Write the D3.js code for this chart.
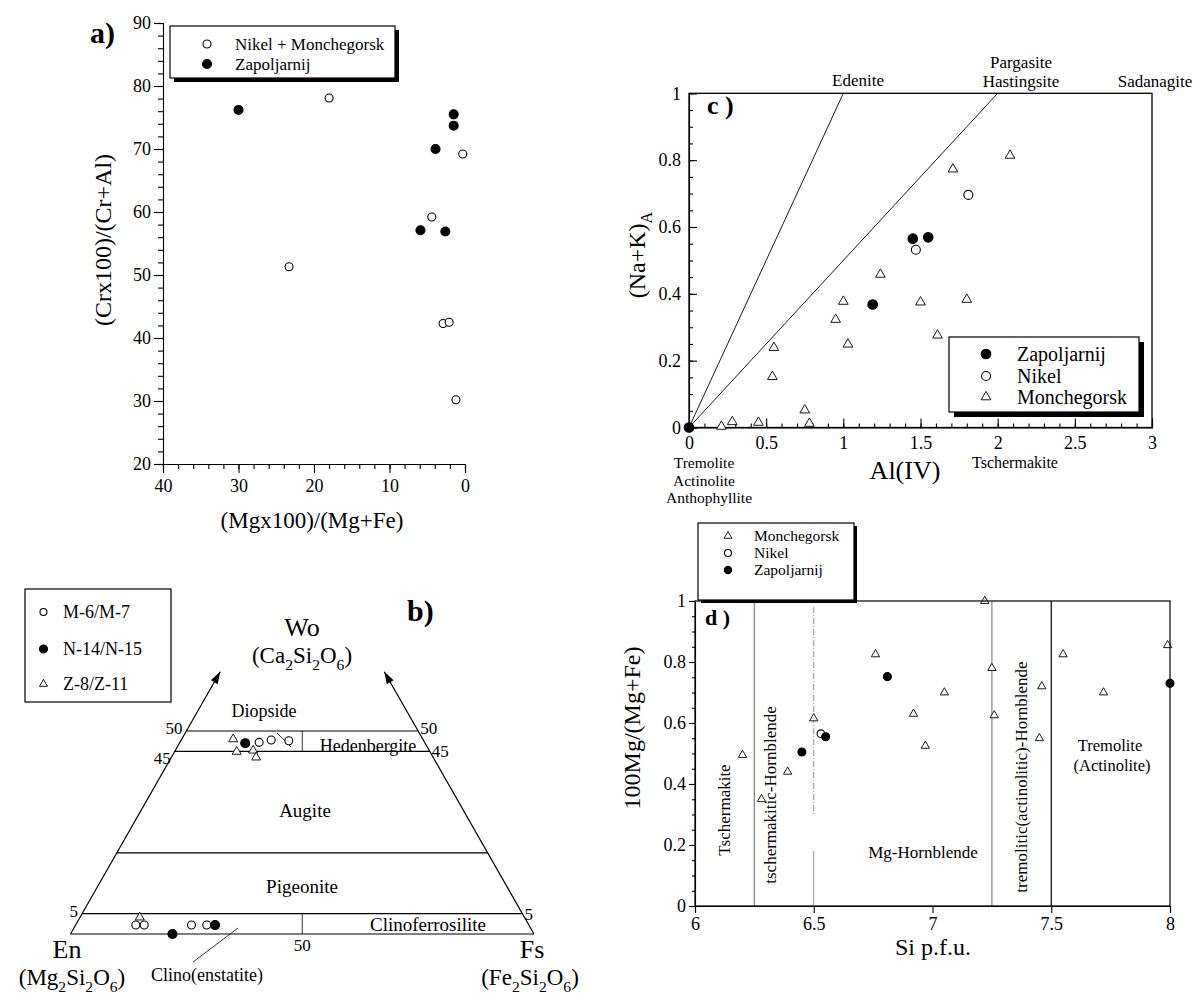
<!DOCTYPE html>
<html>
<head>
<meta charset="utf-8">
<script src="https://cdn.jsdelivr.net/npm/d3@7"></script>
<style>
body { margin: 0; background: #fff; }
</style>
</head>
<body>
<script>
// ---------- data ----------
// a) (Mgx100)/(Mg+Fe) vs (Crx100)/(Cr+Al)
var aNikelMonch = [[18, 78.1], [0.3, 69.2], [4.4, 59.2], [23.3, 51.3], [2.9, 42.3], [2.1, 42.5], [1.2, 30.2]];
var aZapol = [[30, 76.2], [1.5, 75.5], [1.5, 73.7], [3.9, 70.0], [5.9, 57.1], [2.6, 56.9]];
var aYTicks = [20, 30, 40, 50, 60, 70, 80, 90];
var aXTicks = [40, 30, 20, 10, 0];

// b) pyroxene quadrilateral, points as [Wo, Fs]
var bM = [[47.2, 17.1], [47.8, 19.4], [47.6, 23.3], [2.2, 13.0], [2.2, 14.8], [2.2, 25.0], [2.2, 28.3]];
var bN = [[47.0, 14.2], [2.2, 30.1], [0, 22.0]];
var bZ = [[48.0, 11.1], [44.9, 13.4], [45.2, 16.8], [43.5, 18.3], [4.1, 12.9]];
var bWoLines = [50, 45, 20, 5];
var bWoLabels = [50, 45, 5];

// c) Al(IV) vs (Na+K)A
var cZapol = [[0, 0], [1.19, 0.368], [1.45, 0.565], [1.55, 0.569]];
var cNikel = [[1.47, 0.532], [1.81, 0.696]];
var cMonch = [[1.71, 0.773], [2.08, 0.814], [1.24, 0.458], [1.0, 0.377], [1.5, 0.375], [1.8, 0.383],
  [0.95, 0.323], [1.03, 0.249], [1.61, 0.276], [0.55, 0.239], [0.54, 0.152], [0.75, 0.052],
  [0.78, 0.012], [0.45, 0.015], [0.28, 0.017], [0.21, 0.003]];
var cLines = [[1, 1], [2, 1]];
var cYTicks = [0, 0.2, 0.4, 0.6, 0.8, 1];
var cXTicks = [0, 0.5, 1, 1.5, 2, 2.5, 3];

// d) Si p.f.u. vs 100Mg/(Mg+Fe)
var dMonch = [[6.20, 0.495], [6.28, 0.35], [6.39, 0.44], [6.50, 0.615], [6.76, 0.825], [6.92, 0.63],
  [6.97, 0.525], [7.05, 0.70], [7.22, 1.0], [7.25, 0.78], [7.26, 0.625], [7.45, 0.55], [7.46, 0.72],
  [7.55, 0.825], [7.72, 0.70], [7.99, 0.855]];
var dNikel = [[6.53, 0.565]];
var dZapol = [[6.45, 0.505], [6.55, 0.555], [6.81, 0.752], [8.0, 0.73]];
var dYTicks = [0, 0.2, 0.4, 0.6, 0.8, 1];
var dXTicks = [6, 6.5, 7, 7.5, 8];

// ---------- helpers ----------
var serif = "'Liberation Serif','Times New Roman',Times,serif";

var svg = d3.select("body").append("svg")
  .attr("width", 1196)
  .attr("height", 996)
  .style("font-family", serif);

var styleAxis = function(g, size) {
  g.attr("font-family", serif).attr("font-size", size);
  g.selectAll("path,line").attr("stroke", "#000").attr("stroke-width", 1.1);
  g.selectAll("text").attr("fill", "#000");
}

var drawMarker = function(g, type, x, y, r) {
  if (type == "tri") {
    g.append("path")
      .attr("d", d3.symbol(d3.symbolTriangle, r * r * 2.2)())
      .attr("transform", "translate(" + x + "," + y + ")")
      .attr("fill", "#fff").attr("stroke", "#000").attr("stroke-width", 0.9);
  } else {
    g.append("circle").attr("cx", x).attr("cy", y).attr("r", r)
      .attr("fill", type == "filled" ? "#000" : "#fff")
      .attr("stroke", "#000").attr("stroke-width", 1.1);
  }
}

var legendBox = function(x, y, w, h, shadow) {
  if (shadow) {
    svg.append("rect").attr("x", x + shadow).attr("y", y + shadow)
      .attr("width", w).attr("height", h).attr("fill", "#000");
  }
  svg.append("rect").attr("x", x).attr("y", y).attr("width", w).attr("height", h)
    .attr("fill", "#fff").attr("stroke", "#000").attr("stroke-width", 1.2);
}

var label = function(x, y, txt, size, anchor, weight) {
  return svg.append("text").attr("x", x).attr("y", y)
    .attr("font-size", size)
    .attr("text-anchor", anchor || "middle")
    .attr("font-weight", weight || "normal")
    .text(txt);
}

// text with subscripts: parts are strings or {sub: "2"}
var richText = function(x, y, parts, size, anchor, transform) {
  var t = svg.append("text").attr("x", x).attr("y", y)
    .attr("font-size", size).attr("text-anchor", anchor || "middle");
  if (transform) t.attr("transform", transform);
  var down = false;
  var shift = size * 0.3;
  parts.forEach(function(p) {
    var isSub = typeof p != "string";
    var s = t.append("tspan").text(isSub ? p.sub : p);
    if (isSub) {
      s.attr("font-size", size * 0.68);
      if (!down) s.attr("dy", shift);
      down = true;
    } else if (down) {
      s.attr("dy", -shift);
      down = false;
    }
  });
  return t;
}

// ---------- panel a ----------
var aX = d3.scaleLinear().domain([40, 0]).range([163, 465]);
var aY = d3.scaleLinear().domain([20, 90]).range([464, 23]);

svg.append("g").attr("transform", "translate(163,0)")
  .call(d3.axisLeft(aY).tickValues(d3.range(20, 91, 2)).tickSize(5).tickFormat(""))
  .call(function(g) { styleAxis(g, 18); g.select(".domain").remove(); });
svg.append("g").attr("transform", "translate(163,0)")
  .call(d3.axisLeft(aY).tickValues(aYTicks).tickSize(9).tickPadding(3))
  .call(function(g) { styleAxis(g, 18); });
svg.append("g").attr("transform", "translate(0,464)")
  .call(d3.axisBottom(aX).tickValues(d3.range(0, 41, 2)).tickSize(5).tickFormat(""))
  .call(function(g) { styleAxis(g, 18); g.select(".domain").remove(); });
svg.append("g").attr("transform", "translate(0,464)")
  .call(d3.axisBottom(aX).tickValues(aXTicks).tickSize(9).tickPadding(6))
  .call(function(g) { styleAxis(g, 18); });

var ga = svg.append("g");
aNikelMonch.forEach(function(d) { drawMarker(ga, "open", aX(d[0]), aY(d[1]), 4); });
aZapol.forEach(function(d) { drawMarker(ga, "filled", aX(d[0]), aY(d[1]), 4.5); });

label(90, 43, "a)", 30, "start", "bold");
label(0, 0, "(Crx100)/(Cr+Al)", 24).attr("transform", "translate(111,240) rotate(-90)");
label(312, 528, "(Mgx100)/(Mg+Fe)", 23);

legendBox(170, 26, 225, 52, 4);
drawMarker(svg, "open", 207, 44, 4);
drawMarker(svg, "filled", 207, 64, 4.5);
label(235, 50, "Nikel + Monchegorsk", 17, "start");
label(235, 70, "Zapoljarnij", 17, "start");

// ---------- panel b ----------
var bPx = d3.scaleLinear().domain([0, 1]).range([70.5, 534]);
var bPy = d3.scaleLinear().domain([0, 100]).range([934, 528]);
var tern = function(wo, fs) {
  return [bPx((fs + wo / 2) / 100), bPy(wo)];
}

var defs = svg.append("defs");
defs.append("marker").attr("id", "arrow")
  .attr("viewBox", "0 0 12 8").attr("refX", 12).attr("refY", 4)
  .attr("markerWidth", 13).attr("markerHeight", 8)
  .attr("markerUnits", "userSpaceOnUse").attr("orient", "auto")
  .append("path").attr("d", "M0,0 L12,4 L0,8 Z").attr("fill", "#000");

var gb = svg.append("g").attr("stroke", "#000").attr("stroke-width", 1.2).attr("fill", "none");
var tip = 64.6;
var l0 = tern(0, 0), l1 = tern(tip, 0);
var r0 = tern(0, 100), r1 = tern(tip, 100 - tip);
gb.append("line").attr("x1", l0[0]).attr("y1", l0[1]).attr("x2", l1[0]).attr("y2", l1[1]).attr("marker-end", "url(#arrow)");
gb.append("line").attr("x1", r0[0]).attr("y1", r0[1]).attr("x2", r1[0]).attr("y2", r1[1]).attr("marker-end", "url(#arrow)");
gb.append("line").attr("x1", l0[0]).attr("y1", l0[1]).attr("x2", r0[0]).attr("y2", r0[1]);
bWoLines.forEach(function(w) {
  var a = tern(w, 0), b = tern(w, 100 - w);
  gb.append("line").attr("x1", a[0]).attr("y1", a[1]).attr("x2", b[0]).attr("y2", b[1]);
});
// En = Fs dividers
[[45, 50], [0, 5]].forEach(function(r) {
  var a = tern(r[0], (100 - r[0]) / 2), b = tern(r[1], (100 - r[1]) / 2);
  gb.append("line").attr("x1", a[0]).attr("y1", a[1]).attr("x2", b[0]).attr("y2", b[1]).attr("stroke-width", 0.8);
});
// leader lines
gb.append("line").attr("x1", 277).attr("y1", 733).attr("x2", 291).attr("y2", 747).attr("stroke-width", 0.8);
gb.append("line").attr("x1", 193).attr("y1", 962).attr("x2", 238).attr("y2", 928).attr("stroke-width", 0.8);

// Wo value labels on both sides
bWoLabels.forEach(function(w) {
  var a = tern(w, 0), b = tern(w, 100 - w);
  var dyL = w == 45 ? 13 : 3;
  var dyR = w == 45 ? 6 : (w == 5 ? 6 : 3);
  label(a[0] - 4, a[1] + dyL, String(w), 17, "end");
  label(b[0] + 2, b[1] + dyR, String(w), 17, "start");
});
label(bPx(0.5), 951, "50", 17);

label(302, 636, "Wo", 26);
richText(302, 663, ["(Ca", {sub: "2"}, "Si", {sub: "2"}, "O", {sub: "6"}, ")"], 23);
label(407, 621, "b)", 30, "start", "bold");
label(264, 717, "Diopside", 18);
label(368, 752, "Hedenbergite", 18);
label(305, 817, "Augite", 19);
label(302, 893, "Pigeonite", 19);
label(428, 931, "Clinoferrosilite", 19);
label(207, 981, "Clino(enstatite)", 18);
label(67, 958, "En", 26);
richText(72, 985, ["(Mg", {sub: "2"}, "Si", {sub: "2"}, "O", {sub: "6"}, ")"], 23);
label(532, 958, "Fs", 26);
richText(530, 985, ["(Fe", {sub: "2"}, "Si", {sub: "2"}, "O", {sub: "6"}, ")"], 23);

var gbp = svg.append("g");
bM.forEach(function(d) { var p = tern(d[0], d[1]); drawMarker(gbp, "open", p[0], p[1], 4); });
bZ.forEach(function(d) { var p = tern(d[0], d[1]); drawMarker(gbp, "tri", p[0], p[1], 4); });
bN.forEach(function(d) { var p = tern(d[0], d[1]); drawMarker(gbp, "filled", p[0], p[1], 4.5); });

legendBox(25, 589, 146, 113, 0);
drawMarker(svg, "open", 43.5, 612, 3.5);
drawMarker(svg, "filled", 43.5, 649, 4);
drawMarker(svg, "tri", 43.5, 684, 3.6);
label(63, 618, "M-6/M-7", 18, "start");
label(63, 655, "N-14/N-15", 18, "start");
label(63, 690, "Z-8/Z-11", 18, "start");

// ---------- panel c ----------
var cX = d3.scaleLinear().domain([0, 3]).range([689, 1152]);
var cY = d3.scaleLinear().domain([0, 1]).range([427.5, 93.3]);

svg.append("g").attr("transform", "translate(689,0)")
  .call(d3.axisLeft(cY).tickValues(d3.range(0, 1.001, 0.05)).tickSize(-4).tickFormat(""))
  .call(function(g) { styleAxis(g, 18); g.select(".domain").remove(); });
svg.append("g").attr("transform", "translate(689,0)")
  .call(d3.axisLeft(cY).tickValues(cYTicks).tickSize(-8).tickPadding(8).tickFormat(function(d) { return d; }))
  .call(function(g) { styleAxis(g, 18); });
svg.append("g").attr("transform", "translate(0,427.5)")
  .call(d3.axisBottom(cX).tickValues(d3.range(0, 3.001, 0.1)).tickSize(-4).tickFormat(""))
  .call(function(g) { styleAxis(g, 18); g.select(".domain").remove(); });
svg.append("g").attr("transform", "translate(0,427.5)")
  .call(d3.axisBottom(cX).tickValues(cXTicks).tickSize(-9).tickPadding(9).tickFormat(function(d) { return d; }))
  .call(function(g) { styleAxis(g, 18); });
svg.append("rect").attr("x", cX(0)).attr("y", cY(1))
  .attr("width", cX(3) - cX(0)).attr("height", cY(0) - cY(1))
  .attr("fill", "none").attr("stroke", "#000").attr("stroke-width", 1.3);

var gc = svg.append("g");
cLines.forEach(function(d) {
  gc.append("line").attr("x1", cX(0)).attr("y1", cY(0)).attr("x2", cX(d[0])).attr("y2", cY(d[1]))
    .attr("stroke", "#000").attr("stroke-width", 0.9);
});

label(858, 86, "Edenite", 17);
label(1021, 68, "Pargasite", 17);
label(1021, 87, "Hastingsite", 17);
label(1155, 87, "Sadanagite", 17);
label(707, 114, "c )", 26, "start", "bold");
label(704, 468, "Tremolite", 15.5);
label(704, 485.5, "Actinolite", 15.5);
label(709, 503, "Anthophyllite", 15.5);
label(1015, 468, "Tschermakite", 16);
label(905, 479, "Al(IV)", 26);
richText(0, 0, ["(Na+K)", {sub: "A"}], 24, "middle", "translate(645,255) rotate(-90)");

cMonch.forEach(function(d) { drawMarker(gc, "tri", cX(d[0]), cY(d[1]), 4.3); });
cNikel.forEach(function(d) { drawMarker(gc, "open", cX(d[0]), cY(d[1]), 4.5); });
cZapol.forEach(function(d) { drawMarker(gc, "filled", cX(d[0]), cY(d[1]), 4.8); });

legendBox(949, 337, 190, 75, 5);
drawMarker(svg, "filled", 986, 354, 4.8);
drawMarker(svg, "open", 986, 376, 4.5);
drawMarker(svg, "tri", 986, 397, 4.3);
label(1017, 361, "Zapoljarnij", 20, "start");
label(1017, 383, "Nikel", 20, "start");
label(1017, 404, "Monchegorsk", 20, "start");

// ---------- panel d ----------
var dX = d3.scaleLinear().domain([6, 8]).range([695, 1170]);
var dY = d3.scaleLinear().domain([0, 1]).range([906, 601]);

var gd = svg.append("g");
// field boundaries
gd.append("line").attr("x1", dX(6.25)).attr("x2", dX(6.25)).attr("y1", dY(0)).attr("y2", dY(1))
  .attr("stroke", "#888").attr("stroke-width", 1.3);
gd.append("line").attr("x1", dX(6.5)).attr("x2", dX(6.5)).attr("y1", dY(0.98)).attr("y2", dY(0.3))
  .attr("stroke", "#888").attr("stroke-width", 1).attr("stroke-dasharray", "6,2,1,2");
gd.append("line").attr("x1", dX(6.5)).attr("x2", dX(6.5)).attr("y1", dY(0.18)).attr("y2", dY(0))
  .attr("stroke", "#999").attr("stroke-width", 1);
gd.append("line").attr("x1", dX(7.25)).attr("x2", dX(7.25)).attr("y1", dY(0)).attr("y2", dY(1))
  .attr("stroke", "#999").attr("stroke-width", 1.4);
gd.append("line").attr("x1", dX(7.5)).attr("x2", dX(7.5)).attr("y1", dY(0)).attr("y2", dY(1))
  .attr("stroke", "#000").attr("stroke-width", 1.2);

svg.append("g").attr("transform", "translate(695,0)")
  .call(d3.axisLeft(dY).tickValues(d3.range(0, 1.001, 0.05)).tickSize(3).tickFormat(""))
  .call(function(g) { styleAxis(g, 18); g.select(".domain").remove(); });
svg.append("g").attr("transform", "translate(695,0)")
  .call(d3.axisLeft(dY).tickValues(dYTicks).tickSize(6).tickPadding(3).tickFormat(function(d) { return d; }))
  .call(function(g) { styleAxis(g, 18); });
svg.append("g").attr("transform", "translate(0,906)")
  .call(d3.axisBottom(dX).tickValues(dXTicks).tickSize(7).tickPadding(4).tickFormat(function(d) { return d; }))
  .call(function(g) { styleAxis(g, 18); });
svg.append("rect").attr("x", dX(6)).attr("y", dY(1))
  .attr("width", dX(8) - dX(6)).attr("height", dY(0) - dY(1))
  .attr("fill", "none").attr("stroke", "#000").attr("stroke-width", 1.2);

label(0, 0, "Tschermakite", 17).attr("transform", "translate(730,810) rotate(-90)");
label(0, 0, "tschermakitic-Hornblende", 17).attr("transform", "translate(776,795) rotate(-90)");
label(0, 0, "tremolitic(actinolitic)-Hornblende", 17).attr("transform", "translate(1027,777) rotate(-90)");
label(923, 858, "Mg-Hornblende", 17);
label(1110, 751, "Tremolite", 16.5);
label(1112, 771, "(Actinolite)", 16.5);
label(705, 625, "d )", 22, "start", "bold");
label(0, 0, "100Mg/(Mg+Fe)", 24).attr("transform", "translate(640,728) rotate(-90)");
label(933, 955, "Si p.f.u.", 24);

dMonch.forEach(function(d) { drawMarker(gd, "tri", dX(d[0]), dY(d[1]), 3.7); });
dNikel.forEach(function(d) { drawMarker(gd, "open", dX(d[0]), dY(d[1]), 3.8); });
dZapol.forEach(function(d) { drawMarker(gd, "filled", dX(d[0]), dY(d[1]), 4); });

legendBox(698, 523, 156, 77, 3);
drawMarker(svg, "tri", 728, 536, 3.5);
drawMarker(svg, "open", 728, 553, 3.5);
drawMarker(svg, "filled", 728, 570, 3.6);
label(754, 541, "Monchegorsk", 15.5, "start");
label(754, 558, "Nikel", 15.5, "start");
label(754, 575, "Zapoljarnij", 15.5, "start");
</script>
</body>
</html>
